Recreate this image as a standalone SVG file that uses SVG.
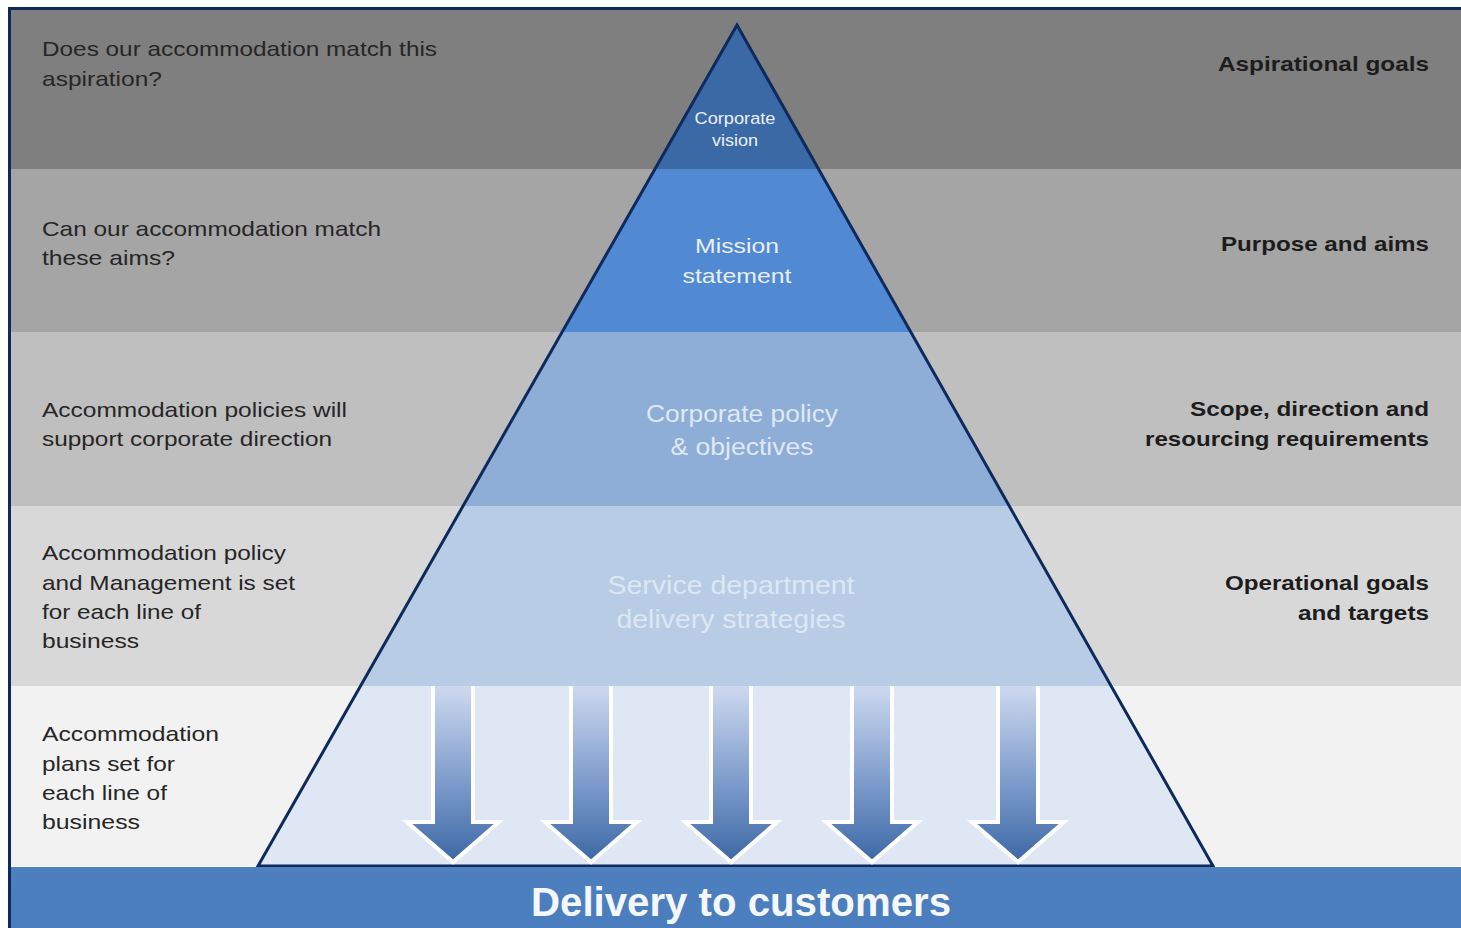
<svg xmlns="http://www.w3.org/2000/svg" xmlns:xlink="http://www.w3.org/1999/xlink" width="1461" height="928" viewBox="0 0 1461 928">
  <style>
    .lt { font-family: "Liberation Sans", Arial, sans-serif; font-size: 21px; fill: #262626; }
    .rt { font-family: "Liberation Sans", Arial, sans-serif; font-size: 21px; font-weight: bold; fill: #1c1c1c; text-anchor: end; }
    .ct { font-family: "Liberation Sans", Arial, sans-serif; text-anchor: middle; }
    .tier-edge { fill: none; stroke: #0e2a5c; stroke-width: 3; stroke-linejoin: miter; }
  </style>
  <defs>
    <clipPath id="tri">
      <polygon points="737,25 258,866 1213,866"/>
    </clipPath>
    <linearGradient id="arrowFill" x1="0" y1="0" x2="0" y2="1">
      <stop offset="0" stop-color="#cdd9ef"/>
      <stop offset="0.55" stop-color="#7d9bcb"/>
      <stop offset="1" stop-color="#3c68a5"/>
    </linearGradient>
    <linearGradient id="barFill" x1="0" y1="0" x2="0" y2="1">
      <stop offset="0" stop-color="#4e80bf"/>
      <stop offset="1" stop-color="#4a7dbd"/>
    </linearGradient>
    <g id="arrow">
      <path d="M -20,686 V 822 H -46 L 0,862 L 46,822 H 20 V 686 Z" fill="url(#arrowFill)"/>
      <path d="M -20,686 V 822 H -46 L 0,862 L 46,822 H 20 V 686" fill="none" stroke="#ffffff" stroke-width="4" stroke-linejoin="miter"/>
    </g>
  </defs>

  <!-- background bands -->
  <g id="bands">
    <rect x="0" y="0" width="1461" height="928" fill="#ffffff"/>
    <rect x="10" y="9" width="1451" height="160" fill="#7f7f7f"/>
    <rect x="10" y="169" width="1451" height="163" fill="#a5a5a5"/>
    <rect x="10" y="332" width="1451" height="174" fill="#bfbfbf"/>
    <rect x="10" y="506" width="1451" height="180" fill="#d8d8d8"/>
    <rect x="10" y="686" width="1451" height="180" fill="#f2f2f2"/>
    <rect x="8" y="7" width="1453" height="3" fill="#0e2a5c"/>
    <rect x="8" y="7" width="3" height="921" fill="#0e2a5c"/>
  </g>

  <!-- pyramid tiers -->
  <g id="pyramid">
    <g clip-path="url(#tri)">
      <rect x="250" y="20" width="970" height="149" fill="#3a69a6"/>
      <rect x="250" y="169" width="970" height="163" fill="#5189d2"/>
      <rect x="250" y="332" width="970" height="174" fill="#8eadd7"/>
      <rect x="250" y="506" width="970" height="180" fill="#b8cce6"/>
      <rect x="250" y="686" width="970" height="180" fill="#dfe7f4"/>
    </g>
    <polygon class="tier-edge" points="737,25 258,866 1213,866"/>
  </g>

  <!-- flow arrows -->
  <g id="connectors">
    <use xlink:href="#arrow" x="453"/>
    <use xlink:href="#arrow" x="591"/>
    <use xlink:href="#arrow" x="731"/>
    <use xlink:href="#arrow" x="872"/>
    <use xlink:href="#arrow" x="1018"/>
  </g>

  <!-- tier labels -->
  <g id="tier-vision">
    <text class="ct" x="735" y="124" font-size="16" fill="#e9eff9" textLength="81" lengthAdjust="spacingAndGlyphs">Corporate</text>
    <text class="ct" x="735" y="146" font-size="16" fill="#e9eff9" textLength="46" lengthAdjust="spacingAndGlyphs">vision</text>
  </g>
  <g id="tier-mission">
    <text class="ct" x="737" y="253" font-size="21" fill="#e8effa" textLength="84" lengthAdjust="spacingAndGlyphs">Mission</text>
    <text class="ct" x="737" y="283" font-size="21" fill="#e8effa" textLength="109" lengthAdjust="spacingAndGlyphs">statement</text>
  </g>
  <g id="tier-policy">
    <text class="ct" x="742" y="422" font-size="23" fill="#dfe8f5" textLength="192" lengthAdjust="spacingAndGlyphs">Corporate policy</text>
    <text class="ct" x="742" y="455" font-size="23" fill="#dfe8f5" textLength="143" lengthAdjust="spacingAndGlyphs">&amp; objectives</text>
  </g>
  <g id="tier-service">
    <text class="ct" x="731" y="594" font-size="25" fill="#dde7f4" textLength="247" lengthAdjust="spacingAndGlyphs">Service department</text>
    <text class="ct" x="731" y="628" font-size="25" fill="#dde7f4" textLength="229" lengthAdjust="spacingAndGlyphs">delivery strategies</text>
  </g>

  <!-- left questions -->
  <g id="q-aspiration">
    <text class="lt" x="42" y="56" textLength="395" lengthAdjust="spacingAndGlyphs">Does our accommodation match this</text>
    <text class="lt" x="42" y="86" textLength="120" lengthAdjust="spacingAndGlyphs">aspiration?</text>
  </g>
  <g id="q-aims">
    <text class="lt" x="42" y="236" textLength="339" lengthAdjust="spacingAndGlyphs">Can our accommodation match</text>
    <text class="lt" x="42" y="265" textLength="133" lengthAdjust="spacingAndGlyphs">these aims?</text>
  </g>
  <g id="q-policies">
    <text class="lt" x="42" y="417" textLength="305" lengthAdjust="spacingAndGlyphs">Accommodation policies will</text>
    <text class="lt" x="42" y="446" textLength="290" lengthAdjust="spacingAndGlyphs">support corporate direction</text>
  </g>
  <g id="q-management">
    <text class="lt" x="42" y="560" textLength="244" lengthAdjust="spacingAndGlyphs">Accommodation policy</text>
    <text class="lt" x="42" y="590" textLength="253" lengthAdjust="spacingAndGlyphs">and Management is set</text>
    <text class="lt" x="42" y="619" textLength="159" lengthAdjust="spacingAndGlyphs">for each line of</text>
    <text class="lt" x="42" y="648" textLength="97" lengthAdjust="spacingAndGlyphs">business</text>
  </g>
  <g id="q-plans">
    <text class="lt" x="42" y="741" textLength="177" lengthAdjust="spacingAndGlyphs">Accommodation</text>
    <text class="lt" x="42" y="771" textLength="133" lengthAdjust="spacingAndGlyphs">plans set for</text>
    <text class="lt" x="42" y="800" textLength="125" lengthAdjust="spacingAndGlyphs">each line of</text>
    <text class="lt" x="42" y="829" textLength="98" lengthAdjust="spacingAndGlyphs">business</text>
  </g>

  <!-- right goals -->
  <g id="g-aspirational">
    <text class="rt" x="1429" y="71" textLength="211" lengthAdjust="spacingAndGlyphs">Aspirational goals</text>
  </g>
  <g id="g-purpose">
    <text class="rt" x="1429" y="251" textLength="208" lengthAdjust="spacingAndGlyphs">Purpose and aims</text>
  </g>
  <g id="g-scope">
    <text class="rt" x="1429" y="416" textLength="239" lengthAdjust="spacingAndGlyphs">Scope, direction and</text>
    <text class="rt" x="1429" y="446" textLength="284" lengthAdjust="spacingAndGlyphs">resourcing requirements</text>
  </g>
  <g id="g-operational">
    <text class="rt" x="1429" y="590" textLength="204" lengthAdjust="spacingAndGlyphs">Operational goals</text>
    <text class="rt" x="1429" y="620" textLength="131" lengthAdjust="spacingAndGlyphs">and targets</text>
  </g>

  <!-- delivery bar -->
  <g id="delivery">
    <rect x="11" y="867" width="1450" height="61" fill="url(#barFill)"/>
    <text class="ct" x="741" y="916" font-size="40" font-weight="bold" fill="#f4f7fc" textLength="420" lengthAdjust="spacingAndGlyphs">Delivery to customers</text>
  </g>
</svg>
